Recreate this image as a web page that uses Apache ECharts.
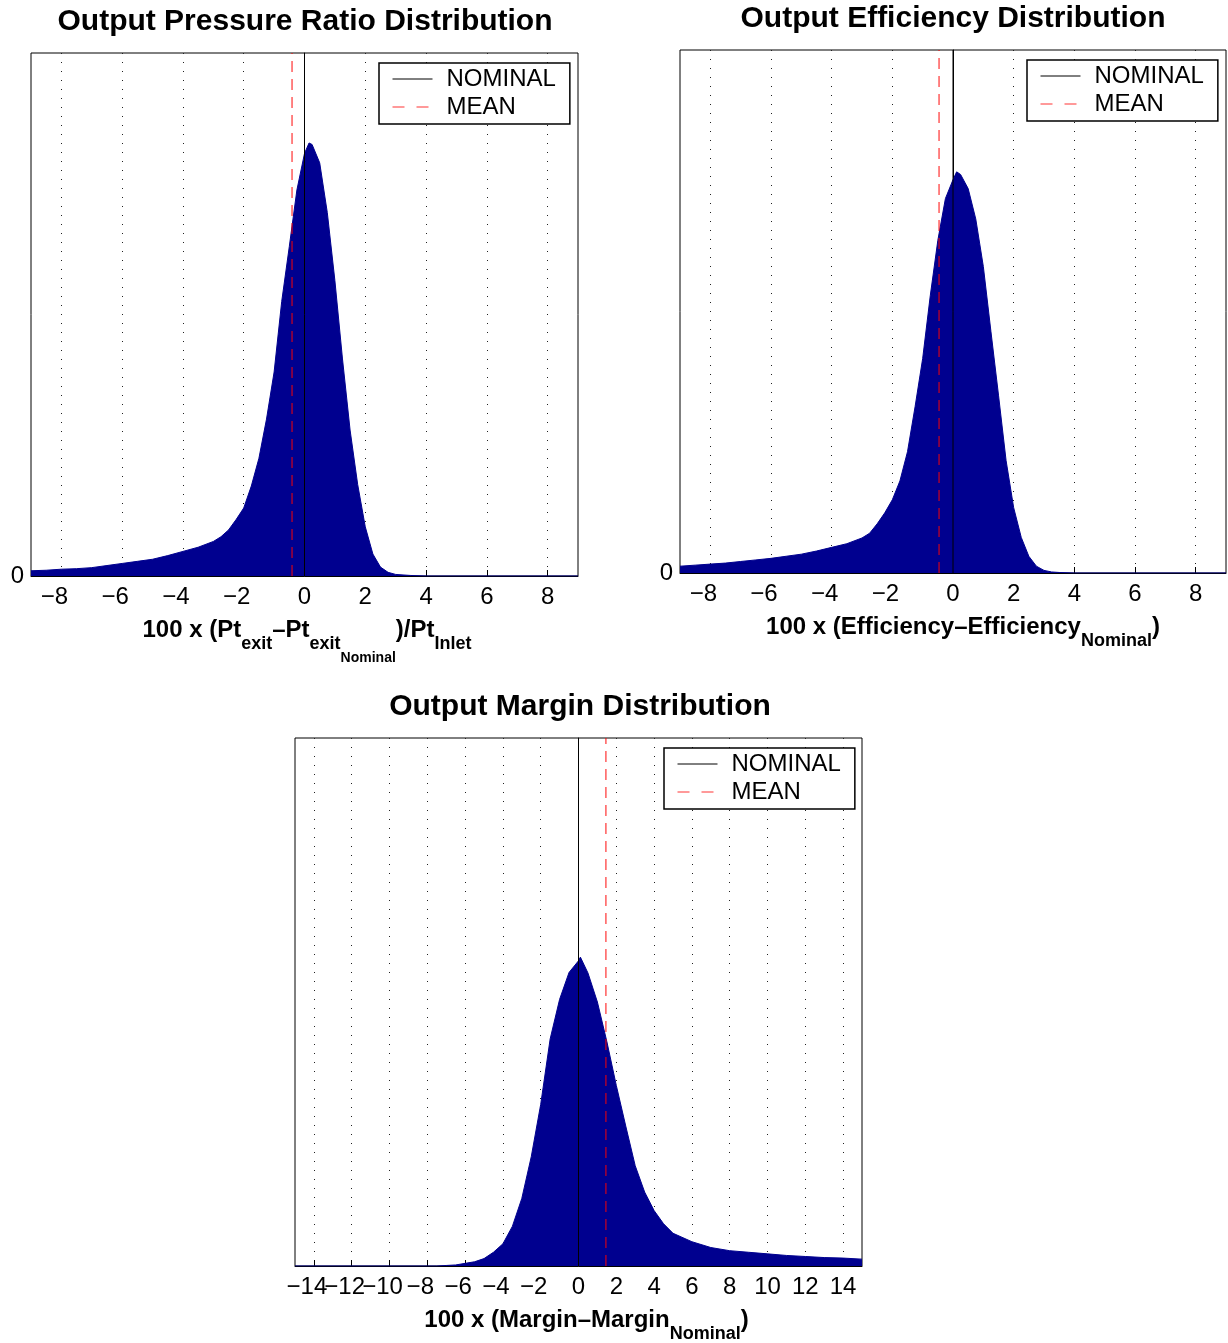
<!DOCTYPE html>
<html><head><meta charset="utf-8">
<script src="https://cdn.jsdelivr.net/npm/echarts@6/dist/echarts.min.js"></script>
<style>html,body{margin:0;padding:0;background:#fff}#c{width:1228px;height:1343px}</style>
</head><body><div id="c"></div>
<script>
const FONT = "'Liberation Sans', Arial, Helvetica, sans-serif";

// Panel 1: Output Pressure Ratio Distribution
const P1_X = [-9,-8.5,-8,-7.5,-7,-6.5,-6,-5.5,-5,-4.5,-4,-3.5,-3,-2.75,-2.5,-2.25,-2,-1.75,-1.5,-1.25,-1,-0.75,-0.5,-0.25,0,0.15,0.25,0.5,0.75,1,1.25,1.5,1.75,2,2.25,2.5,2.75,3,3.5,4,9];
const P1_Y = [0.010,0.011,0.013,0.014,0.016,0.020,0.024,0.028,0.032,0.039,0.047,0.055,0.066,0.075,0.088,0.108,0.130,0.172,0.225,0.300,0.390,0.525,0.630,0.738,0.808,0.828,0.825,0.790,0.695,0.565,0.415,0.279,0.175,0.094,0.042,0.017,0.007,0.003,0.001,0,0];

// Panel 2: Output Efficiency Distribution
const P2_X = [-9,-8.5,-8,-7.5,-7,-6.5,-6,-5.5,-5,-4.5,-4,-3.5,-3,-2.75,-2.5,-2.25,-2,-1.75,-1.5,-1.25,-1,-0.75,-0.5,-0.25,0,0.12,0.25,0.5,0.75,1,1.25,1.5,1.75,2,2.25,2.5,2.75,3,3.25,3.5,4,9];
const P2_Y = [0.013,0.015,0.017,0.019,0.022,0.025,0.028,0.032,0.036,0.042,0.049,0.056,0.067,0.076,0.094,0.115,0.140,0.176,0.232,0.318,0.410,0.530,0.636,0.716,0.752,0.767,0.762,0.735,0.677,0.586,0.462,0.340,0.215,0.125,0.068,0.032,0.013,0.005,0.002,0.001,0,0];

// Panel 3: Output Margin Distribution
const P3_X = [-15,-7.5,-7,-6.5,-6,-5.5,-5,-4.5,-4,-3.5,-3,-2.5,-2,-1.5,-1,-0.5,0,0.1,0.5,1,1.5,2,2.5,3,3.5,4,4.5,5,6,7,8,9,10,11,12,13,14,15];
const P3_Y = [0,0,0.001,0.002,0.005,0.008,0.014,0.026,0.042,0.075,0.128,0.207,0.306,0.430,0.505,0.556,0.578,0.585,0.555,0.500,0.425,0.342,0.265,0.190,0.140,0.105,0.080,0.062,0.046,0.035,0.029,0.026,0.023,0.020,0.018,0.016,0.015,0.013];

const TICKS_A = [-8,-6,-4,-2,0,2,4,6,8];
const TICKS_B = [-14,-12,-10,-8,-6,-4,-2,0,2,4,6,8,10,12,14];
const X_RANGE_A = [-9, 9];
const X_RANGE_B = [-15, 15];
const Y_TICKS = [[0], [0], []];
const Y_MAX = 1;
const NOMINAL_X = 0;
const MEAN_X = [-0.41, -0.46, 1.45];

const TITLES = ['Output Pressure Ratio Distribution', 'Output Efficiency Distribution', 'Output Margin Distribution'];
const XNAMES = [
  '{m|100 x (Pt}{s|exit}{m|\u2013Pt}{s|exit}{ss|Nominal}{m|)/Pt}{s|Inlet}',
  '{m|100 x (Efficiency\u2013Efficiency}{s|Nominal}{m|)}',
  '{m|100 x (Margin\u2013Margin}{s|Nominal}{m|)}'
];
const XNAME_SHIFT = [5, 20, 16];

const HIST_COLOR = '#00008F';
const GRIDS = [
  {left: 31, top: 53, width: 547, height: 523},
  {left: 680, top: 50, width: 546, height: 523},
  {left: 295, top: 738, width: 567, height: 528}
];
const LEGEND_POS = [{left: 379, top: 63}, {left: 1027, top: 60}, {left: 664, top: 748}];
const TITLE_POS = [[305, 22], [953, 19], [580, 707]];

const makeFmt = tks => v => {
  if (tks.indexOf(v) < 0) return ' ';   // blank end slot at the axis limits
  return v < 0 ? '{n|\u2212' + Math.abs(v) + '}' : String(v);
};

const rich = {
  m: {fontSize: 24, fontWeight: 'bold', fontFamily: FONT, color: '#000', verticalAlign: 'top', lineHeight: 24},
  s: {fontSize: 18, fontWeight: 'bold', fontFamily: FONT, color: '#000', verticalAlign: 'top', padding: [17, 0, 0, 0]},
  ss: {fontSize: 14, fontWeight: 'bold', fontFamily: FONT, color: '#000', verticalAlign: 'top', padding: [33, 0, 0, 0]}
};

const hists = [[P1_X, P1_Y], [P2_X, P2_Y], [P3_X, P3_Y]];
const ranges = [X_RANGE_A, X_RANGE_A, X_RANGE_B];
const ticks = [TICKS_A, TICKS_A, TICKS_B];

const xAxis = [], yAxis = [], series = [], legend = [], graphic = [];
for (let i = 0; i < 3; i++) {
  const labelVals = i === 2 ? [ranges[i][0]].concat(ticks[i], [ranges[i][1]]) : ticks[i];
  xAxis.push({
    gridIndex: i, type: 'value', min: ranges[i][0], max: ranges[i][1],
    axisLine: {show: true, onZero: false, lineStyle: {color: '#000', width: 1}},
    axisTick: {show: true, inside: true, length: 6, customValues: ticks[i], lineStyle: {color: '#000'}},
    axisLabel: {
      customValues: labelVals, formatter: makeFmt(ticks[i]), color: '#000', fontSize: 24, fontFamily: FONT, margin: 9,
      hideOverlap: false,
      rich: {n: {fontSize: 24, fontFamily: FONT, color: '#000', padding: [0, 14, 0, 0]}}
    },
    splitLine: {show: true, lineStyle: {color: '#222', type: [1, 8], width: 1}},
    name: XNAMES[i], nameLocation: 'middle', nameGap: 42,
    nameTextStyle: {fontSize: 24, fontWeight: 'bold', fontFamily: FONT, color: '#000', rich: rich, padding: [0, 0, 0, XNAME_SHIFT[i]]}
  });
  yAxis.push({
    gridIndex: i, type: 'value', min: 0, max: Y_MAX,
    axisLine: {show: true, lineStyle: {color: '#000', width: 1}},
    axisTick: {show: false},
    axisLabel: {show: Y_TICKS[i].length > 0, customValues: Y_TICKS[i].length ? Y_TICKS[i] : [0], color: '#000', fontSize: 24, fontFamily: FONT, margin: 7},
    splitLine: {show: false}
  });
  const [hx, hy] = hists[i];
  series.push({
    name: 'hist' + i, type: 'line', xAxisIndex: i, yAxisIndex: i,
    data: hx.map((x, k) => [x, hy[k]]),
    symbol: 'none', smooth: false,
    lineStyle: {color: HIST_COLOR, width: 1},
    itemStyle: {color: HIST_COLOR},
    areaStyle: {color: HIST_COLOR, opacity: 1},
    z: 2, silent: true
  });
  series.push({
    name: 'NOMINAL', type: 'line', xAxisIndex: i, yAxisIndex: i,
    data: [[NOMINAL_X, 0], [NOMINAL_X, Y_MAX]],
    symbol: 'none', itemStyle: {color: '#000'}, lineStyle: {color: '#000', width: 1}, z: 3, silent: true
  });
  series.push({
    name: 'MEAN', type: 'line', xAxisIndex: i, yAxisIndex: i,
    data: [[MEAN_X[i], 0], [MEAN_X[i], Y_MAX]],
    symbol: 'none', itemStyle: {color: '#f00'}, lineStyle: {color: 'rgba(255,0,0,0.75)', width: 1.3, type: [11, 7]}, z: 4, silent: true
  });
  legend.push(Object.assign({
    orient: 'vertical', backgroundColor: '#fff', borderColor: '#000', borderWidth: 1.5,
    padding: [4, 14, 5, 13], itemGap: 4, itemWidth: 40, itemHeight: 14, selectedMode: false,
    textStyle: {fontSize: 24, color: '#000', fontFamily: FONT, padding: [0, 0, 0, 9]},
    itemStyle: {opacity: 0, color: 'transparent', borderColor: 'transparent', borderWidth: 0},
    data: [
      {name: 'NOMINAL', lineStyle: {color: '#000', width: 1}, itemStyle: {opacity: 0, color: 'transparent', borderWidth: 0}},
      {name: 'MEAN', lineStyle: {color: 'rgba(255,0,0,0.8)', width: 1, type: [12, 12]}, itemStyle: {opacity: 0, color: 'transparent', borderWidth: 0}}
    ]
  }, LEGEND_POS[i]));
  graphic.push({
    type: 'text', x: TITLE_POS[i][0], y: TITLE_POS[i][1],
    style: {text: TITLES[i], font: 'bold 30px ' + FONT, fill: '#000', align: 'center', verticalAlign: 'middle'}
  });
}

const chart = echarts.init(document.getElementById('c'), null, {renderer: 'canvas'});
chart.setOption({
  animation: false,
  backgroundColor: '#fff',
  grid: GRIDS.map(g => Object.assign({show: true, borderColor: '#000', borderWidth: 1, backgroundColor: 'transparent', containLabel: false, outerBoundsMode: 'none'}, g)),
  xAxis, yAxis, series, legend, graphic
});
</script></body></html>
